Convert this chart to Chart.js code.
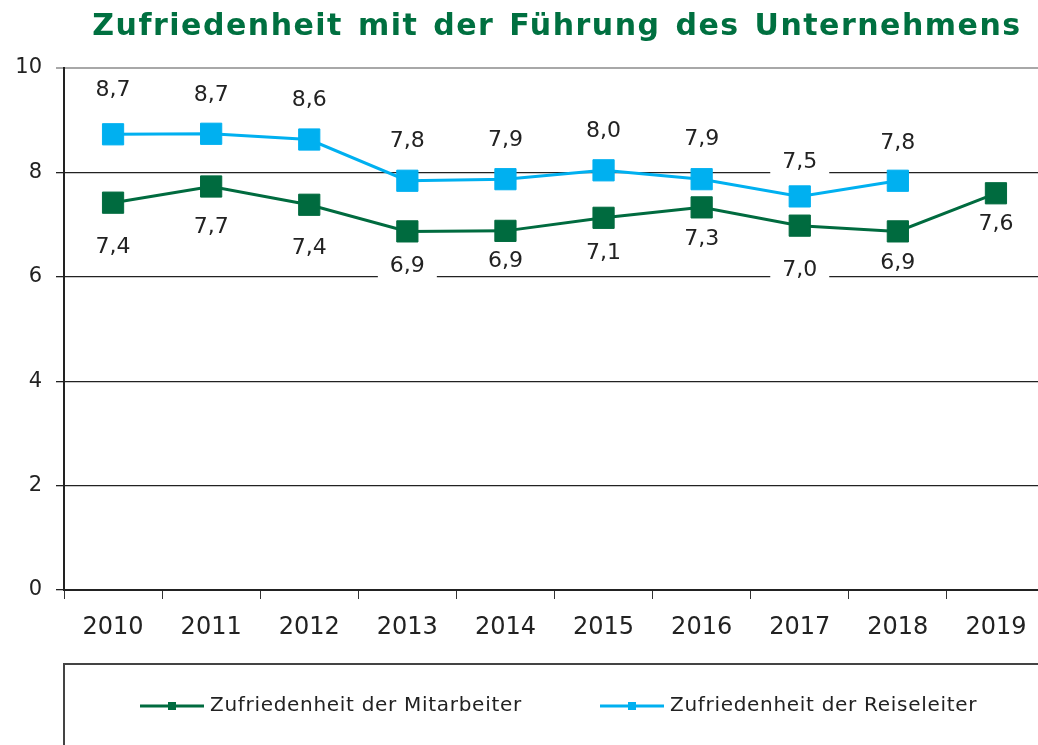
<!DOCTYPE html>
<html>
<head>
<meta charset="utf-8">
<script src="https://cdn.jsdelivr.net/npm/chart.js@4.4.1/dist/chart.umd.min.js"></script>
<style>
  html, body { margin: 0; padding: 0; background: #fff; overflow: hidden; }
  #wrap { width: 1061px; height: 745px; }
</style>
</head>
<body>
<div id="wrap"><canvas id="chart" width="1061" height="745"></canvas></div>
<script>
/* ==========================
   Daten
   ========================== */
const TITEL = "Zufriedenheit mit der Führung des Unternehmens";
const jahre = ["2010", "2011", "2012", "2013", "2014", "2015", "2016", "2017", "2018", "2019"];
const mitarbeiter = [7.42, 7.73, 7.38, 6.87, 6.88, 7.13, 7.33, 6.98, 6.87, 7.6];
const reiseleiter = [8.73, 8.74, 8.63, 7.84, 7.87, 8.04, 7.87, 7.54, 7.84, null];
const yTicks = [0, 2, 4, 6, 8, 10];

// Abstand der Wertebeschriftung zum Punkt (wie im Original von Hand verschoben)
const versatzUnten = [45, 41, 44, 35, 30, 35, 32, 45, 32, 31];
const versatzOben = [44, 38, 39, 39, 39, 39, 40, 34, 37, 39];

const GRUEN = "#006b3f";
const BLAU = "#00b0f0";
const FONT = "'DejaVu Sans', Verdana, sans-serif";

// Zahlen im deutschen Format (Komma)
function fmt(v) {
  return v.toFixed(1).replace(".", ",");
}

/* --------------------------
   Plugins: Titel, Datenbeschriftung, Legende
   -------------------------- */
const titelPlugin = {
  id: "titel",
  afterDraw(chart) {
    const ctx = chart.ctx;
    ctx.save();
    ctx.font = "bold 30px " + FONT;
    ctx.letterSpacing = "1.5px";
    ctx.wordSpacing = "3px";
    ctx.fillStyle = "#007040";
    ctx.textAlign = "center";
    ctx.textBaseline = "middle";
    ctx.fillText(TITEL, 557, 27);
    ctx.restore();
  },
};

const labelPlugin = {
  id: "werte",
  afterDatasetsDraw(chart) {
    const ctx = chart.ctx;
    ctx.save();
    ctx.font = "22px " + FONT;
    ctx.textAlign = "center";
    ctx.textBaseline = "middle";
    chart.data.datasets.forEach((ds, i) => {
      const meta = chart.getDatasetMeta(i);
      const oben = ds.labelPos === "oben";
      meta.data.forEach((pt, j) => {
        const v = ds.data[j];
        if (v === null || v === undefined) return;
        const txt = fmt(v);
        const y = oben ? pt.y - versatzOben[j] : pt.y + versatzUnten[j];
        const w = ctx.measureText(txt).width;
        ctx.fillStyle = "#fff";
        ctx.fillRect(pt.x - w / 2 - 12, y - 11, w + 24, 23);
        ctx.fillStyle = "#222";
        ctx.fillText(txt, pt.x, y);
      });
    });
    ctx.restore();
  },
};

const legendePlugin = {
  id: "legende",
  afterDraw(chart) {
    const ctx = chart.ctx;
    ctx.save();
    ctx.strokeStyle = "#444";
    ctx.lineWidth = 2;
    ctx.strokeRect(64, 664, 1100, 200);
    ctx.font = "20px " + FONT;
    ctx.letterSpacing = "0.7px";
    ctx.textBaseline = "middle";
    ctx.textAlign = "left";
    const startX = [140, 600];
    const y = 706;
    chart.data.datasets.forEach((ds, i) => {
      const x = startX[i];
      ctx.strokeStyle = ds.borderColor;
      ctx.lineWidth = 3;
      ctx.beginPath();
      ctx.moveTo(x, y);
      ctx.lineTo(x + 64, y);
      ctx.stroke();
      ctx.fillStyle = ds.borderColor;
      ctx.fillRect(x + 28, y - 4, 8, 8);
      ctx.fillStyle = "#222";
      ctx.fillText(ds.label, x + 70, y);
    });
    ctx.restore();
  },
};

/* ==========================
   Chart
   ========================== */
new Chart(document.getElementById("chart"), {
  type: "line",
  data: {
    labels: jahre,
    datasets: [
      {
        label: "Zufriedenheit der Mitarbeiter",
        data: mitarbeiter,
        borderColor: GRUEN,
        backgroundColor: GRUEN,
        borderWidth: 3,
        pointStyle: "rect",
        pointRadius: 15,
        pointBorderWidth: 1,
        pointHoverRadius: 15,
        tension: 0,
        labelPos: "unten",
      },
      {
        label: "Zufriedenheit der Reiseleiter",
        data: reiseleiter,
        borderColor: BLAU,
        backgroundColor: BLAU,
        borderWidth: 3,
        pointStyle: "rect",
        pointRadius: 15,
        pointBorderWidth: 1,
        pointHoverRadius: 15,
        tension: 0,
        labelPos: "oben",
      },
    ],
  },
  options: {
    responsive: false,
    animation: false,
    events: [],
    layout: { padding: { top: 68, right: 1, left: 0, bottom: 0 } },
    plugins: {
      legend: { display: false },
      title: { display: false },
      tooltip: { enabled: false },
    },
    scales: {
      x: {
        offset: true,
        grid: {
          offset: true,
          drawOnChartArea: false,
          drawTicks: true,
          tickLength: 9,
          color: "#333",
        },
        border: { color: "#222", width: 2 },
        ticks: {
          font: { family: FONT, size: 24 },
          color: "#222",
          padding: 14,
          maxRotation: 0,
        },
        afterFit(scale) {
          scale.height = 155;
        },
      },
      y: {
        min: 0,
        max: 10,
        afterBuildTicks(scale) {
          scale.ticks = yTicks.map((v) => ({ value: v }));
        },
        grid: {
          color: (c) => (c.tick && c.tick.value === 10 ? "#a8a8a8" : "#222"),
          lineWidth: (c) => (c.tick && c.tick.value === 10 ? 2 : 1.3),
          tickLength: 8,
        },
        border: { color: "#222", width: 2 },
        ticks: {
          font: { family: FONT, size: 21 },
          color: "#222",
          padding: 14,
        },
        afterFit(scale) {
          scale.width = 64;
        },
      },
    },
  },
  plugins: [titelPlugin, labelPlugin, legendePlugin],
});
</script>
</body>
</html>
